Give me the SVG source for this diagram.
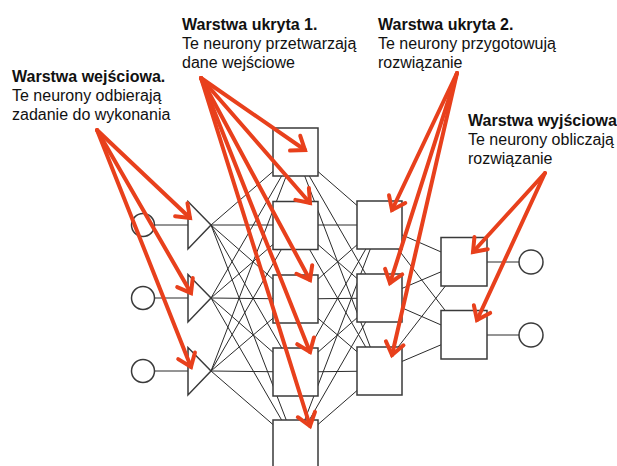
<svg xmlns="http://www.w3.org/2000/svg" width="617" height="466" viewBox="0 0 617 466">
<style>
.bg{fill:#ffffff}
.c{stroke:#2a2a2a;stroke-width:1;fill:none}
.n{fill:#ffffff;stroke:#3a3a3a;stroke-width:1.5}
.t{font-family:"Liberation Sans",Arial,Helvetica,sans-serif;font-size:16px;fill:#111}
.b{font-weight:bold}
.a{stroke:#e8401c;stroke-width:4;fill:none;stroke-linecap:round}
</style>
<defs>
<marker id="ah" markerUnits="userSpaceOnUse" viewBox="-16 -12 20 24" markerWidth="20" markerHeight="24" refX="0" refY="0" orient="auto" overflow="visible">
<path d="M -12 -9 L 0 0 L -12 9" fill="none" stroke="#e8401c" stroke-width="4" stroke-linejoin="miter" stroke-linecap="round"/>
</marker>
</defs>
<rect class="bg" x="0" y="0" width="617" height="466"/>

<g id="connectors">
<path class="c" d="M211 225L295.5 152M211 225L295.5 225M211 225L295.5 299M211 225L295.5 372M211 225L295.5 444"/>
<path class="c" d="M211 298L295.5 152M211 298L295.5 225M211 298L295.5 299M211 298L295.5 372M211 298L295.5 444"/>
<path class="c" d="M211 371L295.5 152M211 371L295.5 225M211 371L295.5 299M211 371L295.5 372M211 371L295.5 444"/>
<path class="c" d="M295.5 152L379.5 225M295.5 152L379.5 298M295.5 152L379.5 371"/>
<path class="c" d="M295.5 225L379.5 225M295.5 225L379.5 298M295.5 225L379.5 371"/>
<path class="c" d="M295.5 299L379.5 225M295.5 299L379.5 298M295.5 299L379.5 371"/>
<path class="c" d="M295.5 372L379.5 225M295.5 372L379.5 298M295.5 372L379.5 371"/>
<path class="c" d="M295.5 444L379.5 225M295.5 444L379.5 298M295.5 444L379.5 371"/>
<path class="c" d="M379.5 225L464 262M379.5 225L464 335M379.5 298L464 262M379.5 298L464 335M379.5 371L464 262M379.5 371L464 335"/>
<path class="c" d="M155 225H188M155 298H188M155 371H188M487 262H519M487 335H519" stroke-width="1.3"/>
</g>

<g id="in1"><circle class="n" cx="143" cy="225" r="11.5" stroke-width="1.2"/></g>
<g id="in2"><circle class="n" cx="143" cy="298" r="11.5" stroke-width="1.2"/></g>
<g id="in3"><circle class="n" cx="143" cy="371" r="11.5" stroke-width="1.2"/></g>
<g id="tri1"><polygon class="n" points="188,201.5 188,249 211,225" stroke-width="1.2"/></g>
<g id="tri2"><polygon class="n" points="188,274.5 188,322 211,298" stroke-width="1.2"/></g>
<g id="tri3"><polygon class="n" points="188,347.5 188,395 211,371" stroke-width="1.2"/></g>

<g id="h1_1"><rect class="n" x="273" y="128" width="45" height="48"/></g>
<g id="h1_2"><rect class="n" x="273" y="201.5" width="45" height="48"/></g>
<g id="h1_3"><rect class="n" x="273" y="275" width="45" height="48"/></g>
<g id="h1_4"><rect class="n" x="273" y="348" width="45" height="48"/></g>
<g id="h1_5"><rect class="n" x="273" y="420" width="45" height="48"/></g>

<g id="h2_1"><rect class="n" x="357" y="201" width="45" height="48"/></g>
<g id="h2_2"><rect class="n" x="357" y="274" width="45" height="48"/></g>
<g id="h2_3"><rect class="n" x="357" y="347" width="45" height="48"/></g>

<g id="o1"><rect class="n" x="441" y="237.5" width="46" height="48.5"/></g>
<g id="o2"><rect class="n" x="441" y="310.5" width="46" height="48.5"/></g>
<g id="out1"><circle class="n" cx="531" cy="262" r="12" stroke-width="1.2"/></g>
<g id="out2"><circle class="n" cx="531" cy="335" r="12" stroke-width="1.2"/></g>

<g id="label_input">
<text class="t b" x="12" y="82">Warstwa wejściowa.</text>
<text class="t" x="12" y="101">Te neurony odbierają</text>
<text class="t" x="12" y="120">zadanie do wykonania</text>
</g>
<g id="label_hidden1">
<text class="t b" x="182" y="30">Warstwa ukryta 1.</text>
<text class="t" x="182" y="49">Te neurony przetwarzają</text>
<text class="t" x="182" y="68">dane wejściowe</text>
</g>
<g id="label_hidden2">
<text class="t b" x="378" y="30">Warstwa ukryta 2.</text>
<text class="t" x="378" y="49">Te neurony przygotowują</text>
<text class="t" x="378" y="68">rozwiązanie</text>
</g>
<g id="label_output">
<text class="t b" x="468" y="126">Warstwa wyjściowa</text>
<text class="t" x="468" y="145">Te neurony obliczają</text>
<text class="t" x="468" y="164">rozwiązanie</text>
</g>

<g id="arrows">
<line class="a" x1="97" y1="130" x2="190" y2="218" marker-end="url(#ah)"/>
<line class="a" x1="97" y1="130" x2="191" y2="293" marker-end="url(#ah)"/>
<line class="a" x1="97" y1="130" x2="191" y2="367" marker-end="url(#ah)"/>
<line class="a" x1="201" y1="78" x2="305" y2="150" marker-end="url(#ah)"/>
<line class="a" x1="201" y1="78" x2="310" y2="203" marker-end="url(#ah)"/>
<line class="a" x1="201" y1="78" x2="310" y2="280" marker-end="url(#ah)"/>
<line class="a" x1="201" y1="78" x2="310" y2="352" marker-end="url(#ah)"/>
<line class="a" x1="201" y1="78" x2="310" y2="426" marker-end="url(#ah)"/>
<line class="a" x1="457" y1="73" x2="392" y2="210" marker-end="url(#ah)"/>
<line class="a" x1="457" y1="73" x2="390" y2="283" marker-end="url(#ah)"/>
<line class="a" x1="457" y1="73" x2="392" y2="355" marker-end="url(#ah)"/>
<line class="a" x1="545" y1="173" x2="473" y2="252" marker-end="url(#ah)"/>
<line class="a" x1="545" y1="173" x2="477" y2="320" marker-end="url(#ah)"/>
</g>
</svg>
